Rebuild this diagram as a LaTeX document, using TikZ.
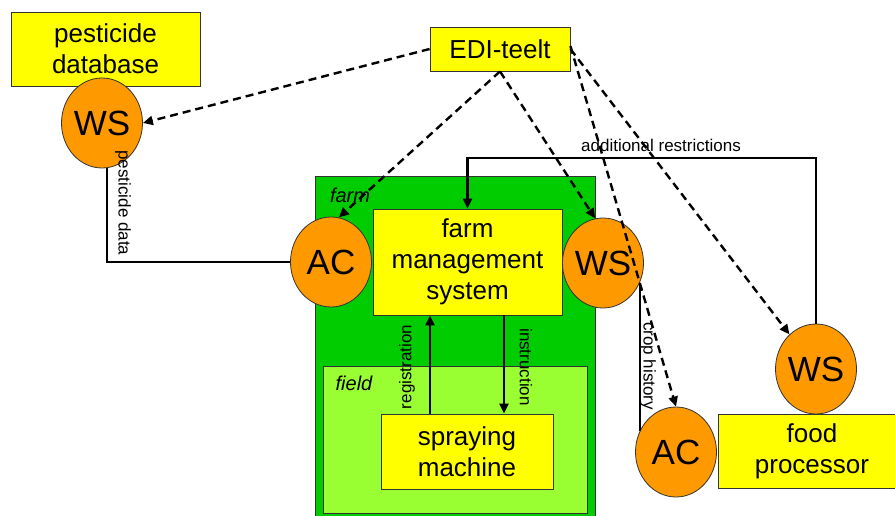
\documentclass[tikz,border=0pt]{standalone}
\usepackage{fontspec}
\setmainfont{Liberation Sans}
\usetikzlibrary{shapes.geometric,arrows.meta}
\definecolor{boxyellow}{HTML}{FFFF00}
\definecolor{orangec}{HTML}{FF9900}
\definecolor{farmgreen}{HTML}{00CC00}
\definecolor{fieldgreen}{HTML}{99FF33}
\definecolor{edge}{HTML}{333333}
\tikzset{
  sysbox/.style={draw=edge, line width=0.8pt, fill=boxyellow, align=center, inner sep=0pt,
    font=\fontsize{26}{31}\selectfont},
  svc/.style={ellipse, draw=edge, line width=0.8pt, fill=orangec, inner sep=0pt,
    minimum width=81pt, minimum height=90pt, font=\fontsize{35}{40}\selectfont},
  lbl/.style={inner sep=0pt, font=\fontsize{17}{20}\selectfont},
  zone/.style={inner sep=0pt, font=\fontsize{20}{24}\selectfont\itshape},
  flow/.style={line width=2.4pt, -{Triangle[length=10pt,width=9pt]}},
  link/.style={line width=2.4pt},
  edi/.style={line width=2.4pt, dash pattern=on 8pt off 5pt, -{Triangle[length=10pt,width=9pt]}}
}
\begin{document}
\begin{tikzpicture}[x=1pt,y=-1pt]
\clip (0,0) rectangle (895,516);
\fill[white] (0,0) rectangle (895,516);
% zones
\draw[draw=edge, line width=0.8pt, fill=farmgreen] (315,176) rectangle (595,530);
\draw[draw=edge, line width=0.8pt, fill=fieldgreen] (323,366) rectangle (587,513);
\node[zone] (farmlbl) at (350,195) {farm};
\node[zone] (fieldlbl) at (354,383) {field};
% boxes
\node[sysbox, minimum width=189pt, minimum height=74pt] (pdb) at (105.5,49) {pesticide\\database};
\node[sysbox, minimum width=140pt, minimum height=44pt] (edi) at (500,49) {EDI-teelt};
\node[sysbox, minimum width=189pt, minimum height=106pt] (fms) at (467.5,262) {farm\\management\\system};
\node[sysbox, minimum width=172pt, minimum height=75pt] (spray) at (467,451.5) {spraying\\machine};
\node[sysbox, minimum width=188pt, minimum height=74pt] (food) at (812,451) {food\\processor};
% services
\node[svc] (ws1) at (102,123) {WS};
\node[svc] (ac1) at (331,262) {AC};
\node[svc] (ws2) at (603,263) {WS};
\node[svc] (ac2) at (676,452) {AC};
\node[svc] (ws3) at (816,369) {WS};
% solid connectors
\draw[link] (ws1.-84) |- (ac1.west);
\node[lbl, rotate=-90] (pdlbl) at (123,203) {pesticide data};
\draw[flow] (spray.north -| 430,0) -- (fms.south -| 430,0);
\node[lbl, rotate=90] (reglbl) at (407,367) {registration};
\draw[flow] (fms.south -| 504,0) -- (spray.north -| 504,0);
\node[lbl, rotate=-90] (inslbl) at (526,367) {instruction};
\coordinate (artop) at (467.5,158);
\draw[flow] (ws3.north) |- (artop) -- (fms.north);
\node[lbl] (arlbl) at (661,145) {additional restrictions};
\draw[link] (ws2.-28) -- (ws2.-28 |- ac2.150);
\node[lbl, rotate=-90] (chlbl) at (648,366) {crop history};
% EDI dashed arrows
\draw[edi] (edi.west) -- (ws1.east);
\draw[edi] (edi.south) -- (ac1.80);
\draw[edi] (edi.south) -- (ws2.100);
\draw[edi] ([yshift=3pt]edi.east) -- (ac2.north);
\draw[edi] (edi.east) -- (ws3);
\end{tikzpicture}
\end{document}
